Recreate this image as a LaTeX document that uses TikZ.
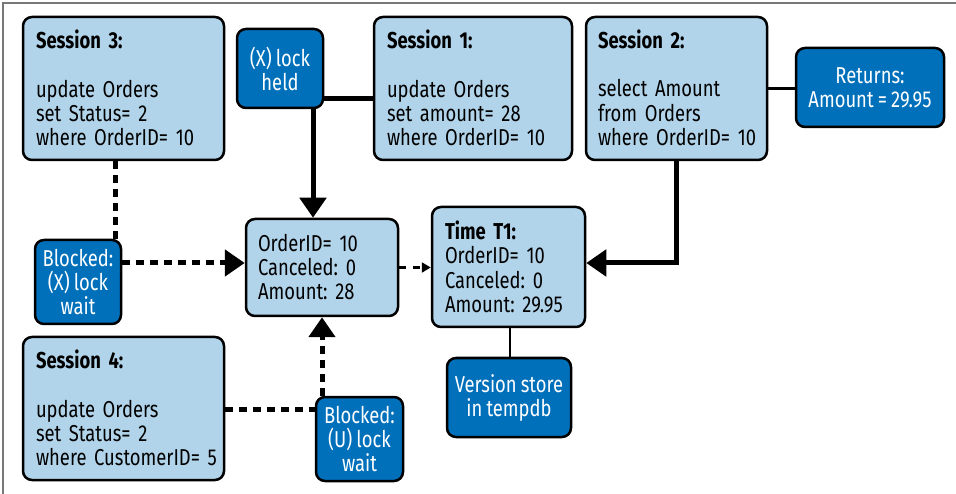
\documentclass[tikz,border=0pt]{standalone}
\usepackage{fontspec}
\setmainfont{Fira Sans}[FakeStretch=0.8,WordSpace=0.85]
\usetikzlibrary{arrows.meta,calc}
\definecolor{lightb}{RGB}{177,212,234}
\definecolor{darkb}{RGB}{0,112,187}
\definecolor{framegray}{RGB}{120,120,120}
\newcommand\lbl[1]{\raisebox{-3pt}[\height][\depth]{\begin{tabular}{@{}l@{}}#1\end{tabular}}}
\tikzset{
  box/.style={draw=black,line width=2.5pt,rounded corners=9pt,inner sep=0pt},
  lbox/.style={box,fill=lightb,text=black,align=left,font=\fontsize{23}{24}\selectfont\frenchspacing},
  dbox/.style={box,fill=darkb,text=white,align=center,font=\fontsize{23}{24}\selectfont\frenchspacing},
  thickline/.style={line width=5pt},
  thinline/.style={line width=2.5pt},
  dotline/.style={line width=5pt,dash pattern=on 8pt off 6pt},
  bigtip/.style={-{Triangle[length=20pt,width=26pt]}},
  smalltip/.style={-{Triangle[length=9pt,width=10pt]}},
}
\begin{document}
\begin{tikzpicture}[x=1pt,y=-1pt]
\useasboundingbox (0,0) rectangle (956,494);
\draw[framegray,line width=1.5pt] (3,494) -- (3,3) -- (956,3);
% light boxes
\node[lbox,minimum width=201pt,minimum height=143pt,text width=175pt] (s3) at (123.5,88.5)
  {\lbl{\textbf{Session 3:}\\ \\ update Orders\\ set Status= 2\\ where OrderID= 10}};
\node[lbox,minimum width=198pt,minimum height=143pt,text width=172pt] (s1) at (473,88.5)
  {\lbl{\textbf{Session 1:}\\ \\ update Orders\\ set amount= 28\\ where OrderID= 10}};
\node[lbox,minimum width=181pt,minimum height=143pt,text width=157pt] (s2) at (676.5,88.5)
  {\lbl{\textbf{Session 2:}\\ \\ select Amount\\ from Orders\\ where OrderID= 10}};
\node[lbox,minimum width=201pt,minimum height=143pt,text width=175pt] (s4) at (123.5,408.5)
  {\lbl{\textbf{Session 4:}\\ \\ update Orders\\ set Status= 2\\ where CustomerID= 5}};
\node[lbox,minimum width=152pt,minimum height=97pt,text width=128pt] (ord) at (322,267.5)
  {\lbl{OrderID= 10\\ Canceled: 0\\ Amount: 28}};
\node[lbox,minimum width=153pt,minimum height=120pt,text width=127pt] (t1) at (508.5,267)
  {\lbl{\textbf{Time T1:}\\ OrderID= 10\\ Canceled: 0\\ Amount: 29.95}};
% dark boxes
\node[dbox,minimum width=86pt,minimum height=79pt] (xh) at (280,68.5) {(X) lock\\held};
\node[dbox,minimum width=148pt,minimum height=79pt] (ret) at (870,87.5) {Returns:\\Amount = 29.95};
\node[dbox,minimum width=86pt,minimum height=84pt] (bx) at (78,282) {Blocked:\\(X) lock\\wait};
\node[dbox,minimum width=124pt,minimum height=79pt] (vs) at (509,397.5) {Version store\\in tempdb};
\node[dbox,minimum width=87pt,minimum height=84pt] (bu) at (359.5,439) {Blocked:\\(U) lock\\wait};
% connectors
\coordinate (a1) at ($(s1.west)+(0,10.5)$);
\draw[thickline] (a1) -- (a1 -| xh.east);
\coordinate (a2) at ($(xh.south)+(33,0)$);
\draw[thickline,bigtip] (a2) -- (a2 |- ord.north);
\coordinate (a3) at ($(s3.south)+(-8.5,0)$);
\draw[dotline] (a3) -- (a3 |- bx.north);
\coordinate (a4) at ($(bx.east)+(0,-19)$);
\draw[dotline,bigtip] (a4) -- (a4 -| ord.west);
\draw[thinline,dash pattern=on 7pt off 7pt,smalltip] (ord.east) -- (ord.east -| t1.west);
\draw[thickline,bigtip] (s2.south) |- ($(t1.east)+(0,-4)$);
\draw[thinline] (s2.east) -- (s2.east -| ret.west);
\coordinate (a5) at ($(t1.south)+(1.5,0)$);
\draw[thinline] (a5) -- (a5 |- vs.north);
\coordinate (a6) at ($(s4.east)+(0,0.5)$);
\draw[dotline] (a6) -- (a6 -| bu.west);
\coordinate (a7) at ($(bu.north)+(-37.5,0)$);
\draw[dotline,bigtip] (a7) -- (a7 |- ord.south);
\end{tikzpicture}
\end{document}
